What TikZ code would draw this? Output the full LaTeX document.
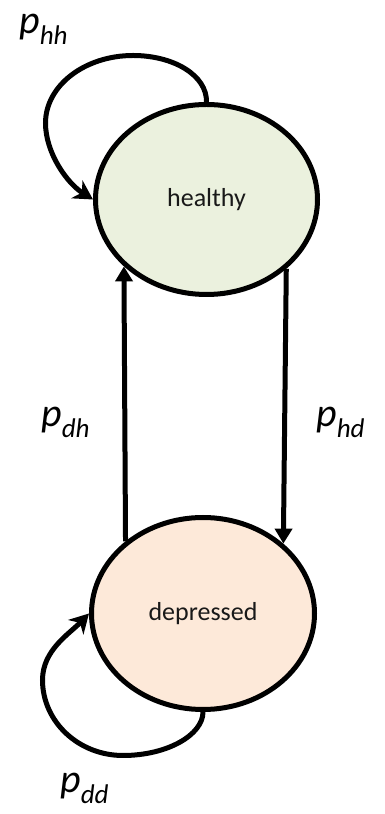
\documentclass[tikz,border=0pt]{standalone}
\usepackage{fontspec}
\setmainfont{Carlito}
\usetikzlibrary{shapes.geometric,arrows.meta}
\definecolor{hfill}{RGB}{235,241,222}
\definecolor{dfill}{RGB}{253,233,217}
\newcommand{\plab}[1]{{\fontsize{40}{44}\selectfont\itshape p\raisebox{-11pt}{\fontsize{27}{30}\selectfont #1}}}
\begin{document}
\begin{tikzpicture}[x=1pt,y=1pt,
  state/.style={ellipse,draw=black,line width=5pt,inner sep=0pt,text=black!90,font=\fontsize{26}{30}\selectfont},
  conn/.style={line width=5pt,-{Triangle[length=15pt,width=17pt]}},
  loopc/.style={line width=5pt,-{Stealth[length=19pt,width=21pt,inset=6pt]}},
  lab/.style={anchor=base west,inner sep=0pt}]
\useasboundingbox (0,0) rectangle (384,814);
\node[state,fill=hfill,minimum width=222pt,minimum height=190pt] (h) at (206.5,614.5) {healthy};
\node[state,fill=dfill,minimum width=223pt,minimum height=192pt] (d) at (203,200.5) {depressed};
\draw[conn] (d.137.4) -- (h.219.8);
\draw[conn] (h.319.5) -- (d.41.3);
\draw[loopc] (h.north) .. controls (207,738.6) and (173.8,758.5) .. (133,758.5)
  .. controls (84.7,758.5) and (45.5,728.3) .. (45.5,691)
  .. controls (45.5,661) and (67.1,630.8) .. (h.west);
\draw[loopc] (d.south) .. controls (203,79.1) and (167.2,58.5) .. (123,58.5)
  .. controls (78.6,58.5) and (42.5,92.3) .. (42.5,134)
  .. controls (42.5,164) and (69.7,180.4) .. (d.west);
\node[lab] (lhh) at (19,780) {\plab{hh}};
\node[lab] (ldh) at (41,387) {\plab{dh}};
\node[lab] (lhd) at (316,387) {\plab{hd}};
\node[lab] (ldd) at (60,21) {\plab{dd}};
\end{tikzpicture}
\end{document}
